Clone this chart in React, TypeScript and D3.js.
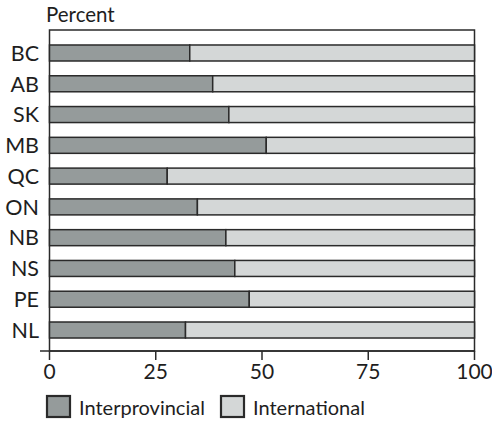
import React from "react";
import * as d3 from "d3";

const categories = ["BC", "AB", "SK", "MB", "QC", "ON", "NB", "NS", "PE", "NL"];
const interprovincial = [33, 38.4, 42.2, 51, 27.7, 34.8, 41.5, 43.6, 47, 32];
const international = interprovincial.map((v) => 100 - v);
const xTicks = [0, 25, 50, 75, 100];
const seriesNames = ["Interprovincial", "International"];

const W = 492;
const H = 423;
const FONT = "Lato, 'Open Sans', sans-serif";
const DARK = "#959b9b";
const LIGHT = "#d4d7d7";
const STROKE = "#2a2a2a";
const TEXT = "#1e1e1e";

export default function App() {
  const x = d3.scaleLinear().domain([0, 100]).range([49.5, 474.5]);
  const y = d3
    .scaleBand<string>()
    .domain(categories)
    .range([31, 352])
    .paddingInner(0.48)
    .paddingOuter(0.4545);
  const frameTop = 30;
  const axisY = 351;
  const bh = y.bandwidth();

  return (
    <svg
      width={W}
      height={H}
      style={{ position: "absolute", left: 0, top: 0, background: "#fff" }}
      fontFamily={FONT}
    >
      <text x={46} y={22} fontSize={20.5} fill={TEXT}>
        Percent
      </text>
      {/* frame */}
      <rect
        x={x(0)}
        y={frameTop}
        width={x(100) - x(0)}
        height={axisY - frameTop}
        fill="none"
        stroke={STROKE}
        strokeWidth={1.5}
      />
      {categories.map((c, i) => {
        const yy = y(c)!;
        const v1 = interprovincial[i];
        const v2 = international[i];
        return (
          <g key={c}>
            <rect
              x={x(0)}
              y={yy}
              width={x(v1) - x(0)}
              height={bh}
              fill={DARK}
              stroke={STROKE}
              strokeWidth={1.5}
            />
            <rect
              x={x(v1)}
              y={yy}
              width={x(v1 + v2) - x(v1)}
              height={bh}
              fill={LIGHT}
              stroke={STROKE}
              strokeWidth={1.5}
            />
            <text
              x={39}
              y={yy + bh / 2}
              dy="0.36em"
              textAnchor="end"
              fontSize={21.5}
              fill={TEXT}
            >
              {c}
            </text>
          </g>
        );
      })}
      {/* x axis */}
      <line x1={40} x2={x(100)} y1={axisY} y2={axisY} stroke={STROKE} strokeWidth={1.5} />
      {xTicks.map((t) => (
        <g key={t}>
          <line x1={x(t)} x2={x(t)} y1={axisY} y2={axisY + 9} stroke={STROKE} strokeWidth={1.5} />
          <text
            x={x(t)}
            y={379}
            textAnchor="middle"
            fontSize={21}
            fill={TEXT}
          >
            {t}
          </text>
        </g>
      ))}
      {/* legend */}
      {seriesNames.map((s, i) => {
        const bx = i === 0 ? 47 : 221;
        return (
          <g key={s}>
            <rect
              x={bx}
              y={396}
              width={23}
              height={21}
              fill={i === 0 ? DARK : LIGHT}
              stroke={STROKE}
              strokeWidth={2.2}
            />
            <text x={bx + 32} y={415} fontSize={20} fill={TEXT}>
              {s}
            </text>
          </g>
        );
      })}
    </svg>
  );
}
